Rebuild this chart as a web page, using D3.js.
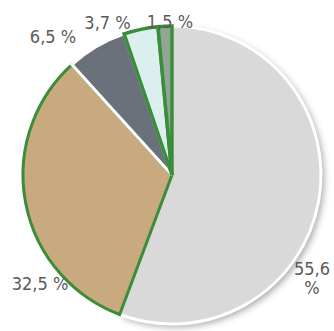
<!DOCTYPE html>
<html>
<head>
<meta charset="utf-8">
<script src="https://cdn.jsdelivr.net/npm/d3@7"></script>
<style>
  html, body { margin: 0; padding: 0; background: #fff; }
  svg { display: block; }
</style>
</head>
<body>
<svg id="chart" width="334" height="331"></svg>
<script>
// Shares, in the order drawn clockwise from 12 o'clock
const categories = ["A", "B", "C", "D", "E"];
const values = [55.6, 32.5, 6.5, 3.7, 1.5];
const labels = ["55,6 %", "32,5 %", "6,5 %", "3,7 %", "1,5 %"];

const fills = ["#d9d9d9", "#c8aa7e", "#6b717b", "#dbf0ee", "#91a795"];
const strokes = ["#ffffff", "#3b8c3b", "#ffffff", "#3b8c3b", "#3b8c3b"];
const strokeW = [3, 3, 3, 3.5, 3.5];

const cx = 172, cy = 175, r = 149;

const svg = d3.select("#chart");
const defs = svg.append("defs");
const f = defs.append("filter").attr("id", "shadow")
  .attr("x", "-20%").attr("y", "-20%").attr("width", "140%").attr("height", "140%");
f.append("feDropShadow").attr("dx", 3).attr("dy", 3).attr("stdDeviation", 3.5)
  .attr("flood-color", "#000").attr("flood-opacity", 0.35);

const pie = d3.pie().sort(null).value(d => d)(values);
const arc = d3.arc().innerRadius(0).outerRadius(r);

const g = svg.append("g").attr("transform", `translate(${cx},${cy})`);

// shadow only under the large slice
g.append("path").attr("d", arc(pie[0])).attr("fill", fills[0])
  .attr("filter", "url(#shadow)");

// slices in order, each stroke painted over the previous one
pie.forEach((d, i) => {
  g.append("path")
    .attr("d", arc(d))
    .attr("fill", fills[i])
    .attr("stroke", strokes[i])
    .attr("stroke-width", strokeW[i])
    .attr("stroke-linejoin", "miter");
});

// labels
const font = "'DejaVu Sans Condensed', 'DejaVu Sans', sans-serif";
const lab = svg.append("g").attr("font-family", font).attr("font-size", 18)
  .attr("fill", "#595959").attr("text-anchor", "middle");

const pos = [
  { x: 312, y: 275, lines: ["55,6", "%"] },
  { x: 40, y: 290, lines: [labels[1]] },
  { x: 53, y: 43, lines: [labels[2]] },
  { x: 107.5, y: 29, lines: [labels[3]] },
  { x: 170, y: 28, lines: [labels[4]] }
];
pos.forEach(p => {
  p.lines.forEach((s, k) => {
    lab.append("text").attr("x", p.x).attr("y", p.y + k * 19).text(s);
  });
});
</script>
</body>
</html>
